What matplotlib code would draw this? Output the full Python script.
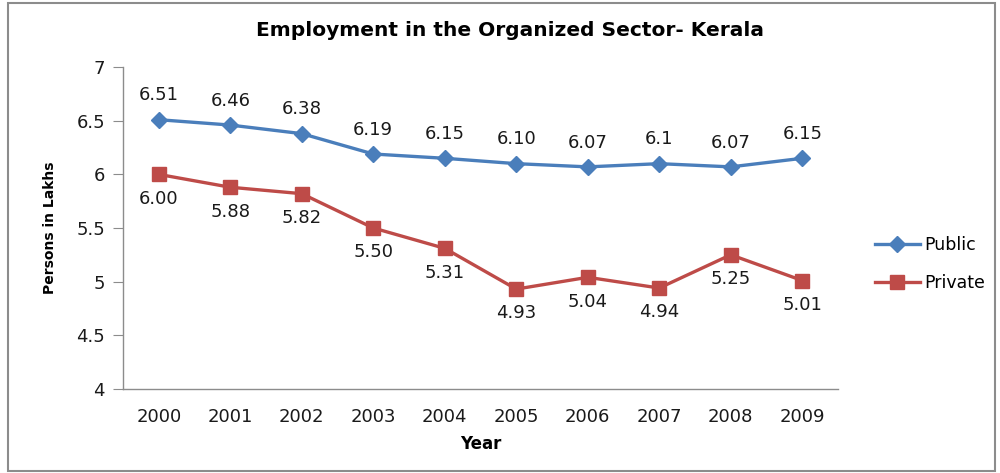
import matplotlib

matplotlib.use("Agg")
import matplotlib.pyplot as plt
from matplotlib.patches import Rectangle

years = ["2000", "2001", "2002", "2003", "2004", "2005", "2006", "2007", "2008", "2009"]
public = [6.51, 6.46, 6.38, 6.19, 6.15, 6.10, 6.07, 6.10, 6.07, 6.15]
private = [6.00, 5.88, 5.82, 5.50, 5.31, 4.93, 5.04, 4.94, 5.25, 5.01]
public_labels = ["6.51", "6.46", "6.38", "6.19", "6.15", "6.10", "6.07", "6.1", "6.07", "6.15"]
private_labels = ["6.00", "5.88", "5.82", "5.50", "5.31", "4.93", "5.04", "4.94", "5.25", "5.01"]

BLUE = "#4a7ebb"
RED = "#be4b48"
TXT = "#1a1a1a"

plt.rcParams["font.family"] = ["DejaVu Sans"]

fig = plt.figure(figsize=(10, 4.73), dpi=100, facecolor="white")
fig.patches.append(Rectangle((0.008, 0.004), 0.987, 0.99, transform=fig.transFigure,
                             fill=False, edgecolor="#8c8c8c", lw=1.5))
ax = fig.add_axes([0.123, 0.178, 0.715, 0.680])

x = range(len(years))
ax.plot(x, public, color=BLUE, lw=2.4, marker="D", ms=8.5, label="Public", zorder=3)
ax.plot(x, private, color=RED, lw=2.4, marker="s", ms=9.5, label="Private", zorder=3)

for i, (v, t) in enumerate(zip(public, public_labels)):
    ax.annotate(t, (i, v), xytext=(0, 11), textcoords="offset points",
                ha="center", va="bottom", fontsize=13, color=TXT)
for i, (v, t) in enumerate(zip(private, private_labels)):
    ax.annotate(t, (i, v), xytext=(0, -11), textcoords="offset points",
                ha="center", va="top", fontsize=13, color=TXT)

ax.set_xlim(-0.5, len(years) - 0.5)
ax.set_ylim(4, 7)
ax.set_yticks([4, 4.5, 5, 5.5, 6, 6.5, 7])
ax.set_yticklabels(["4", "4.5", "5", "5.5", "6", "6.5", "7"])
ax.set_xticks(list(x))
ax.set_xticklabels(years)
ax.tick_params(axis="y", length=7, color="#8c8c8c", labelsize=13, labelcolor=TXT, pad=6)
ax.tick_params(axis="x", length=0, labelsize=13, labelcolor=TXT, pad=14)
for s in ["top", "right"]:
    ax.spines[s].set_visible(False)
for s in ["left", "bottom"]:
    ax.spines[s].set_color("#8c8c8c")
    ax.spines[s].set_linewidth(1.0)

ax.set_xlabel("Year", fontsize=12, fontweight="bold", labelpad=6)
ax.set_ylabel("Persons in Lakhs", fontsize=10, fontweight="bold", labelpad=14)
fig.text(0.51, 0.935, "Employment in the Organized Sector- Kerala", ha="center", va="center",
         fontsize=14.5, fontweight="bold", color="black")

fig.legend(loc="center left", bbox_to_anchor=(0.859, 0.442), frameon=False,
           fontsize=12.5, handlelength=2.6, labelspacing=1.15, handletextpad=0.25)

fig.savefig("out.png", dpi=100, facecolor="white")
